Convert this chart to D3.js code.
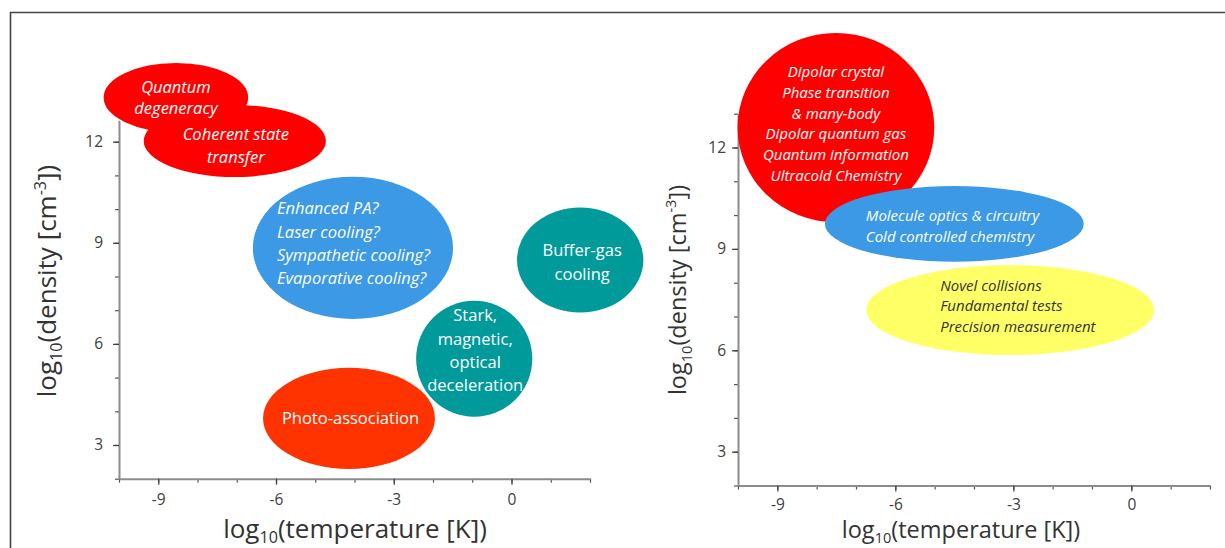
<!DOCTYPE html>
<html><head><meta charset="utf-8">
<script src="https://cdn.jsdelivr.net/npm/d3@7"></script>
<style>body{margin:0;background:#fff} svg{display:block}</style>
</head><body><svg id="c" width="1225" height="548"></svg>
<script>
// ---------- data ----------
const xDomain = [-10, 2];
const yDomain = [2, 13];
const xTickValues = [-9, -6, -3, 0];
const yTickValues = [3, 6, 9, 12];
const xMinorTicks = [-10, -9, -8, -7, -6, -5, -4, -3, -2, -1, 0, 1, 2];
const yMinorTicks = [2, 3, 4, 5, 6, 7, 8, 9, 10, 11, 12, 13];
const xTitle = "temperature [K]";
const yTitle = "density [cm";

// left panel: regions (log10 T centre, log10 n centre, half-widths)
const leftNames = [
  ["Quantum", "degeneracy"],
  ["Coherent state", "transfer"],
  ["Enhanced PA?", "Laser cooling?", "Sympathetic cooling?", "Evaporative cooling?"],
  ["Buffer-gas", "cooling"],
  ["Stark,", "magnetic,", "optical", "deceleration"],
  ["Photo-association"]
];
const leftTemp     = [-8.55, -7.05, -4.04, 1.75, -0.95, -4.14];
const leftDens     = [13.31, 12.02, 8.85, 8.49, 5.56, 3.79];
const leftTempHalf = [1.86, 2.32, 2.55, 1.61, 1.48, 2.19];
const leftDensHalf = [1.05, 1.07, 2.11, 1.56, 1.72, 1.50];

// right panel: applications
const rightNames = [
  ["Dipolar crystal", "Phase transition", "& many-body", "Dipolar quantum gas", "Quantum information", "Ultracold Chemistry"],
  ["Molecule optics & circuitry", "Cold controlled chemistry"],
  ["Novel collisions", "Fundamental tests", "Precision measurement"]
];
const rightTemp     = [-7.51, -4.50, -3.08];
const rightDens     = [12.59, 9.74, 7.19];
const rightTempHalf = [2.50, 3.29, 3.66];
const rightDensHalf = [2.80, 1.12, 1.33];

// ---------- styles ----------
const leftStyle = [
  {fill:"#ff0000", stroke:"#ffffff", italic:true, color:"#fff", fs:16.5, lh:21.5, anchor:"middle", dx:0, dy:0},
  {fill:"#ff0000", stroke:"none", italic:true, color:"#fff", fs:16.5, lh:23, anchor:"middle", dx:1, dy:5},
  {fill:"#3b99e5", stroke:"none", italic:true, color:"#fff", fs:16.5, lh:23.3, anchor:"start", dx:-76, dy:-4.5},
  {fill:"#009a9a", stroke:"none", italic:false, color:"#fff", fs:16.5, lh:23.3, anchor:"middle", dx:2, dy:2},
  {fill:"#009a9a", stroke:"none", italic:false, color:"#fff", fs:16.5, lh:23.3, anchor:"middle", dx:1, dy:-8.5},
  {fill:"#ff3300", stroke:"none", italic:false, color:"#fff", fs:16.5, lh:23, anchor:"middle", dx:1.5, dy:0}
];
const rightStyle = [
  {fill:"#ff0000", stroke:"none", italic:true, color:"#fff", fs:15, lh:20.7, anchor:"middle", dx:0, dy:-4},
  {fill:"#3b99e5", stroke:"none", italic:true, color:"#fff", fs:15, lh:21.5, anchor:"start", dx:-88.5, dy:2},
  {fill:"#ffff66", stroke:"none", italic:true, color:"#333", fs:15, lh:20.3, anchor:"start", dx:-70, dy:-4}
];

const FONT = "'Open Sans', Lato, sans-serif";
const svg = d3.select("#c");

// frame
svg.append("path").attr("d", "M10.5,548 V12.5 H1225").attr("fill","none")
   .attr("stroke","#444").attr("stroke-width",1.6);

function panel(cfg) {
  const x = d3.scaleLinear().domain(xDomain).range(cfg.xr);
  const y = d3.scaleLinear().domain(yDomain).range(cfg.yr);
  const g = svg.append("g");

  // minor ticks
  const gxm = g.append("g").attr("transform", `translate(0,${cfg.yr[0]})`)
    .call(d3.axisBottom(x).tickValues(xMinorTicks).tickSize(4).tickSizeOuter(0).tickFormat(""));
  const gym = g.append("g").attr("transform", `translate(${cfg.xr[0]},0)`)
    .call(d3.axisLeft(y).tickValues(yMinorTicks).tickSize(4).tickSizeOuter(0).tickFormat(""));
  [gxm, gym].forEach(a => { a.select(".domain").remove(); a.selectAll("line").attr("stroke","#555").attr("stroke-width",1.2); });

  const fmt = d => String(d);
  const gx = g.append("g").attr("transform", `translate(0,${cfg.yr[0]})`)
    .call(d3.axisBottom(x).tickValues(xTickValues).tickSize(6).tickSizeOuter(0).tickPadding(cfg.xpad).tickFormat(fmt));
  const gy = g.append("g").attr("transform", `translate(${cfg.xr[0]},0)`)
    .call(d3.axisLeft(y).tickValues(yTickValues).tickSize(6).tickSizeOuter(0).tickPadding(cfg.ypad).tickFormat(fmt));
  [gx, gy].forEach(a => {
    a.select(".domain").attr("stroke","#8c8c8c").attr("stroke-width",2);
    a.selectAll("line").attr("stroke","#444").attr("stroke-width",1.3);
    a.selectAll("text").attr("fill","#404040").style("font-family",FONT).style("font-size","15.5px");
  });

  const sub = cfg.tfs * 0.62;
  // x title
  const xt = g.append("text").attr("x", cfg.xtx).attr("y", cfg.xty).attr("text-anchor","middle")
    .attr("fill","#333").style("font-family",FONT).style("font-size", cfg.tfs + "px");
  xt.append("tspan").text("log");
  xt.append("tspan").text("10").attr("dy", 4.5).style("font-size", sub + "px");
  xt.append("tspan").text("(" + xTitle + ")").attr("dy", -4.5);

  // y title
  const yt = g.append("text").attr("transform", `translate(${cfg.ytx},${cfg.yty}) rotate(-90)`)
    .attr("text-anchor","middle").attr("fill","#333").style("font-family",FONT).style("font-size", cfg.tfs + "px");
  yt.append("tspan").text("log");
  yt.append("tspan").text("10").attr("dy", 6).style("font-size", sub + "px");
  yt.append("tspan").text("(" + yTitle).attr("dy", -6);
  yt.append("tspan").text("-3").attr("dy", -10).style("font-size", sub + "px");
  yt.append("tspan").text("])").attr("dy", 10);

  // regions
  const data = cfg.names.map((n, i) => ({names:n, t:cfg.temp[i], d:cfg.dens[i], th:cfg.th[i], dh:cfg.dh[i], s:cfg.style[i]}));
  g.selectAll("ellipse.r").data(data).join("ellipse")
    .attr("cx", d => x(d.t)).attr("cy", d => y(d.d))
    .attr("rx", d => x(d.t + d.th) - x(d.t)).attr("ry", d => y(d.d - d.dh) - y(d.d))
    .attr("fill", d => d.s.fill).attr("stroke", d => d.s.stroke).attr("stroke-width", 1.5);

  data.forEach(d => {
    const s = d.s, n = d.names.length;
    const cx = x(d.t) + s.dx, cy = y(d.d) + s.dy;
    const t = g.append("text").attr("text-anchor", s.anchor).attr("fill", s.color)
      .style("font-family", FONT).style("font-size", s.fs + "px")
      .style("font-style", s.italic ? "italic" : "normal");
    d.names.forEach((line, i) => {
      t.append("tspan").attr("x", cx).attr("y", cy + (i - (n - 1) / 2) * s.lh + 0.36 * s.fs).text(line);
    });
  });
}

panel({xr:[119, 590], yr:[478.7, 108], names:leftNames, temp:leftTemp, dens:leftDens, th:leftTempHalf, dh:leftDensHalf,
       style:leftStyle, xpad:9, ypad:10, xtx:355, xty:538, ytx:56, yty:281, tfs:26});
panel({xr:[738, 1210], yr:[485.5, 113.7], names:rightNames, temp:rightTemp, dens:rightDens, th:rightTempHalf, dh:rightDensHalf,
       style:rightStyle, xpad:7, ypad:6, xtx:961, xty:538, ytx:686, yty:290, tfs:23.5});
</script></body></html>
